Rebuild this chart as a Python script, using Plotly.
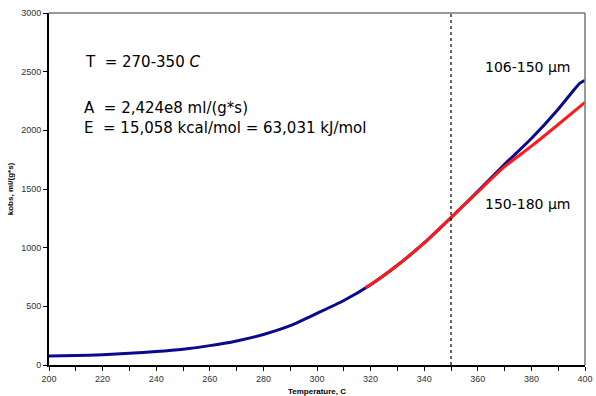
import plotly.graph_objects as go

temp_blue = [200, 210, 220, 230, 240, 250, 260, 270, 280, 290, 300, 310, 320, 330, 340, 350,
             360, 370, 380, 390, 395, 398, 400]
kobs_blue = [77, 80, 88, 100, 115, 135, 165, 205, 260, 335, 440, 550, 685, 850, 1040, 1256,
             1480, 1710, 1930, 2180, 2320, 2400, 2427]

temp_red = [318, 320, 330, 340, 350, 360, 370, 380, 390, 400]
kobs_red = [660, 685, 850, 1040, 1256, 1475, 1690, 1865, 2050, 2239]

vline_x = 350
x_range = [200, 400]
y_range = [0, 3000]

fig = go.Figure()
fig.add_trace(go.Scatter(x=temp_blue, y=kobs_blue, mode="lines",
                         line=dict(color="#0a0a8c", width=3, shape="spline", smoothing=0.6),
                         showlegend=False))
fig.add_trace(go.Scatter(x=temp_red, y=kobs_red, mode="lines",
                         line=dict(color="#ff1a1a", width=3, shape="spline", smoothing=0.6),
                         showlegend=False))
fig.add_trace(go.Scatter(x=[vline_x, vline_x], y=y_range, mode="lines",
                         line=dict(color="black", width=1.2, dash="dot"), showlegend=False))

fig.update_layout(
    width=596, height=396,
    margin=dict(l=49, r=11, t=13, b=31),
    plot_bgcolor="white", paper_bgcolor="white",
    font=dict(family="Liberation Sans, Arial", size=9, color="#333"),
    xaxis=dict(range=x_range, dtick=20, tick0=200, showgrid=False, zeroline=False,
               automargin=False,
               showline=True, linecolor="black", linewidth=2,
               ticks="outside", ticklen=4, tickcolor="black", tickwidth=1,
               minor=dict(dtick=10, ticks="outside", ticklen=4, tickcolor="black"),
               title=dict(text="<b>Temperature, C</b>", font=dict(size=8, color="black"), standoff=6),
               tickfont=dict(size=9, color="#333")),
    yaxis=dict(range=y_range, dtick=500, showgrid=False, zeroline=False,
               automargin=False,
               showline=True, linecolor="black", linewidth=2,
               ticks="outside", ticklen=4, tickcolor="black", tickwidth=1,
               title=dict(text="<b>kobs, ml/(g*s)</b>", font=dict(size=8, color="black"), standoff=6),
               tickfont=dict(size=9, color="#333")),
    shapes=[
        dict(type="line", xref="paper", yref="paper", x0=0, x1=1, y0=1, y1=1,
             line=dict(color="#777", width=1.5)),
        dict(type="line", xref="paper", yref="paper", x0=1, x1=1, y0=0, y1=1,
             line=dict(color="#777", width=1.5)),
    ],
    annotations=[
        dict(x=0.064, y=0.861, xref="paper", yref="paper", xanchor="left", yanchor="middle",
             text="T  = 270-350 <i>C</i>", showarrow=False,
             font=dict(family="DejaVu Sans", size=15, color="black")),
        dict(x=0.061, y=0.730, xref="paper", yref="paper", xanchor="left", yanchor="middle",
             text="A  = 2,424e8 ml/(g*s)", showarrow=False,
             font=dict(family="DejaVu Sans", size=15, color="black")),
        dict(x=0.061, y=0.673, xref="paper", yref="paper", xanchor="left", yanchor="middle",
             text="E  = 15,058 kcal/mol = 63,031 kJ/mol", showarrow=False,
             font=dict(family="DejaVu Sans", size=15, color="black")),
        dict(x=0.978, y=0.847, xref="paper", yref="paper", xanchor="right", yanchor="middle",
             text="106-150 µm", showarrow=False,
             font=dict(family="DejaVu Sans", size=14, color="black")),
        dict(x=0.978, y=0.457, xref="paper", yref="paper", xanchor="right", yanchor="middle",
             text="150-180 µm", showarrow=False,
             font=dict(family="DejaVu Sans", size=14, color="black")),
    ],
)

fig.write_html("out.html")
